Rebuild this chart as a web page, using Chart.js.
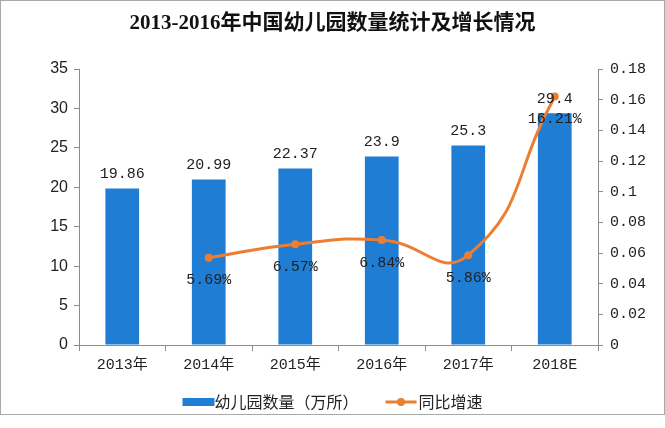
<!DOCTYPE html>
<html>
<head>
<meta charset="utf-8">
<script src="https://cdn.jsdelivr.net/npm/chart.js@4.4.1/dist/chart.umd.min.js"></script>
<style>
  body { margin: 0; background: #fff; }
  #box { width: 665px; height: 428px; }
</style>
</head>
<body>
<div id="box"><canvas id="kg"></canvas></div>
<script>
var categories = ['2013年', '2014年', '2015年', '2016年', '2017年', '2018E']
var counts = [19.86, 20.99, 22.37, 23.9, 25.3, 29.4]
var growth = [null, 0.0569, 0.0657, 0.0684, 0.0586, 0.1621]
var leftTicks = [0, 5, 10, 15, 20, 25, 30, 35]
var rightTicks = [0, 0.02, 0.04, 0.06, 0.08, 0.1, 0.12, 0.14, 0.16, 0.18]
var seriesNames = ['幼儿园数量（万所）', '同比增速']
var titleText = '2013-2016年中国幼儿园数量统计及增长情况'

var blue = '#1f7ed4'
var orange = '#ed7d31'
var axisGray = '#8c8c8c'
var monoFont = '"Liberation Mono", "Noto Sans CJK SC", monospace'
var sansFont = '"Liberation Sans", Arial, sans-serif'
var cjk = '"Noto Sans CJK SC", sans-serif'

// frame, title and legend are drawn by hand
var decor = {
  id: 'decor',
  beforeDraw: function (chart) {
    var ctx = chart.ctx
    ctx.save()
    ctx.fillStyle = '#fff'
    ctx.fillRect(0, 0, chart.width, chart.height)
    ctx.strokeStyle = '#a8a8a8'
    ctx.lineWidth = 1
    ctx.strokeRect(0.5, 0.5, chart.width - 1, 414)
    ctx.restore()
  },
  afterDraw: function (chart) {
    var ctx = chart.ctx
    ctx.save()
    // title
    ctx.fillStyle = '#111'
    ctx.textAlign = 'center'
    ctx.textBaseline = 'middle'
    ctx.font = 'bold 21px "Liberation Serif", ' + cjk
    ctx.fillText(titleText, chart.width / 2, 24)

    // legend
    ctx.font = '16px ' + cjk
    var w1 = ctx.measureText(seriesNames[0]).width
    var w2 = ctx.measureText(seriesNames[1]).width
    var gap = 27
    var total = 32 + w1 + gap + 33 + w2
    var x = chart.width / 2 - total / 2
    var y = 402
    ctx.fillStyle = blue
    ctx.fillRect(x, y - 4, 32, 8)
    x += 32
    ctx.fillStyle = '#222'
    ctx.textAlign = 'left'
    ctx.fillText(seriesNames[0], x, y)
    x += w1 + gap
    ctx.strokeStyle = orange
    ctx.lineWidth = 3
    ctx.beginPath(); ctx.moveTo(x, y); ctx.lineTo(x + 31, y); ctx.stroke()
    ctx.fillStyle = orange
    ctx.beginPath(); ctx.arc(x + 15.5, y, 4, 0, Math.PI * 2); ctx.fill()
    x += 33
    ctx.fillStyle = '#222'
    ctx.fillText(seriesNames[1], x, y)
    ctx.restore()
  }
}

var valueLabels = {
  id: 'valueLabels',
  afterDatasetsDraw: function (chart) {
    var ctx = chart.ctx
    ctx.save()
    ctx.font = '15px ' + monoFont
    ctx.fillStyle = '#222'
    ctx.textAlign = 'center'
    var barMeta = chart.getDatasetMeta(1)
    barMeta.data.forEach(function (el, i) {
      ctx.textBaseline = 'bottom'
      ctx.fillText(String(counts[i]), el.x, el.y - 7)
    })
    var lineMeta = chart.getDatasetMeta(0)
    lineMeta.data.forEach(function (el, i) {
      if (growth[i] == null) return
      ctx.textBaseline = 'top'
      ctx.fillText((growth[i] * 100).toFixed(2) + '%', el.x, el.y + 15)
    })
    ctx.restore()
  }
}

new Chart(document.getElementById('kg'), {
  type: 'bar',
  data: {
    labels: categories,
    datasets: [
      {
        type: 'line',
        label: seriesNames[1],
        data: growth,
        yAxisID: 'y1',
        borderColor: orange,
        backgroundColor: orange,
        borderWidth: 3,
        pointRadius: 4,
        pointBackgroundColor: orange,
        pointBorderWidth: 0,
        tension: 0.5,
        order: 0
      },
      {
        label: seriesNames[0],
        data: counts,
        yAxisID: 'y',
        backgroundColor: blue,
        barPercentage: 0.39,
        categoryPercentage: 1,
        order: 1
      }
    ]
  },
  options: {
    responsive: true,
    maintainAspectRatio: false,
    animation: false,
    layout: { padding: { left: 0, right: 0, top: 69, bottom: 48 } },
    plugins: {
      title: { display: false },
      legend: { display: false },
      tooltip: { enabled: false }
    },
    scales: {
      x: {
        offset: true,
        afterFit: function (s) { s.height = 35 },
        grid: { offset: true, drawOnChartArea: false, drawTicks: true, tickLength: 6, color: axisGray },
        border: { display: true, color: axisGray },
        ticks: { color: '#222', font: { family: monoFont, size: 15 }, padding: 5 }
      },
      y: {
        position: 'left',
        min: 0,
        max: 35,
        afterBuildTicks: function (s) { s.ticks = leftTicks.map(function (v) { return { value: v } }) },
        afterFit: function (s) { s.width = 79 },
        grid: { drawOnChartArea: false, drawTicks: true, tickLength: 5, color: axisGray },
        border: { display: true, color: axisGray },
        ticks: { color: '#222', font: { family: sansFont, size: 16 }, padding: 6 }
      },
      y1: {
        position: 'right',
        min: 0,
        max: 0.18,
        afterBuildTicks: function (s) { s.ticks = rightTicks.map(function (v) { return { value: v } }) },
        afterFit: function (s) { s.width = 67 },
        grid: { drawOnChartArea: false, drawTicks: true, tickLength: 5, color: axisGray },
        border: { display: true, color: axisGray },
        ticks: {
          color: '#222',
          font: { family: monoFont, size: 15 },
          padding: 7,
          callback: function (v) { return String(+v.toFixed(2)) }
        }
      }
    }
  },
  plugins: [decor, valueLabels]
})
</script>
</body>
</html>
